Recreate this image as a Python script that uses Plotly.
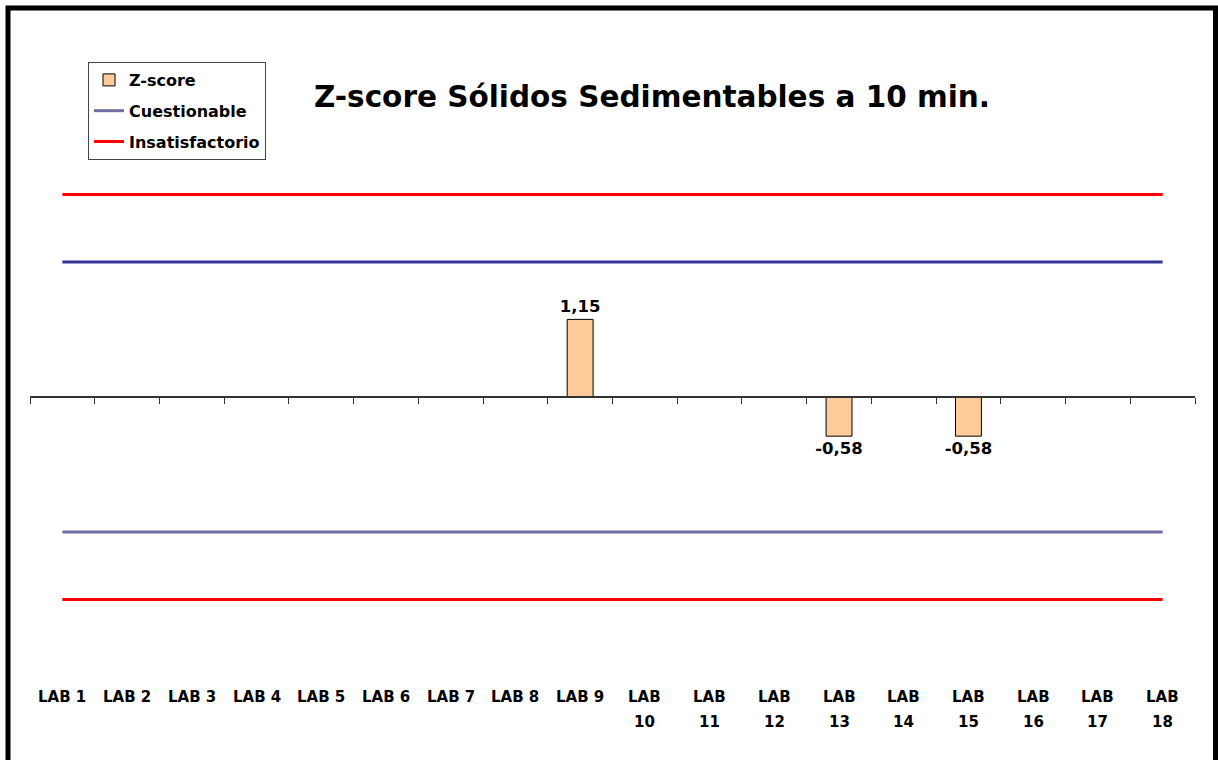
import plotly.graph_objects as go

labs = [f"LAB {i}" for i in range(1, 19)]
zscore = [None, None, None, None, None, None, None, None, 1.15,
          None, None, None, -0.58, None, -0.58, None, None, None]
cuest_hi = [2] * 18
cuest_lo = [-2] * 18
insat_hi = [3] * 18
insat_lo = [-3] * 18

W, H = 1218, 760
L, R, T, B = 30, 23, 150, 75
ppu = 67.5
zero_px = 397
ymax = (zero_px - T) / ppu
ymin = (zero_px - (H - B)) / ppu
zero_frac = (0 - ymin) / (ymax - ymin)
pw = W - L - R
ph = H - T - B

FONT = "DejaVu Sans"


def ypaper(px):
    return (H - B - px) / ph


fig = go.Figure()
fig.add_trace(go.Bar(
    x=labs, y=zscore, name="<b>Z-score</b>", width=0.4, legendgroup="a",
    marker=dict(color="#FFCC99", line=dict(color="black", width=1)),
    texttemplate="<b>%{y:.2f}</b>", textposition="outside",
    textfont=dict(family=FONT, size=16.5, color="black"),
    constraintext="none", cliponaxis=False,
))
fig.add_trace(go.Scatter(x=labs, y=cuest_hi, mode="lines", showlegend=False,
                         line=dict(color="#333399", width=3), hoverinfo="skip"))
fig.add_trace(go.Scatter(x=labs, y=cuest_lo, mode="lines", name="<b>Cuestionable</b>",
                         legendgroup="b", line=dict(color="#6F6FA3", width=3)))
fig.add_trace(go.Scatter(x=labs, y=insat_hi, mode="lines", name="<b>Insatisfactorio</b>",
                         legendgroup="c", line=dict(color="#FF0000", width=3)))
fig.add_trace(go.Scatter(x=labs, y=insat_lo, mode="lines", showlegend=False,
                         line=dict(color="#FF0000", width=3), hoverinfo="skip"))

for lab in labs:
    word, num = lab.split(" ")
    if int(num) < 10:
        lines = [lab]
    else:
        lines = [word, num]
    for k, txt in enumerate(lines):
        fig.add_annotation(x=lab, xref="x", y=ypaper(697 + 25 * k), yref="paper",
                           text=f"<b>{txt}</b>", showarrow=False, yanchor="middle",
                           font=dict(family=FONT, size=15, color="black"))

fig.add_shape(type="rect", xref="paper", yref="paper",
              x0=(8 - L) / pw, x1=(1215.5 - L) / pw,
              y0=ypaper(800), y1=ypaper(8),
              line=dict(color="black", width=5), layer="above")

fig.update_layout(
    width=W, height=H,
    margin=dict(l=L, r=R, t=T, b=B),
    paper_bgcolor="white", plot_bgcolor="white",
    separators=",.",
    showlegend=True,
    title=dict(text="<b>Z-score Sólidos Sedimentables a 10 min.</b>",
               x=652 / W, xanchor="center", y=1 - 97 / H, yanchor="middle",
               font=dict(family=FONT, size=29.5, color="black")),
    legend=dict(x=(88 - L) / pw, y=ypaper(62), xanchor="left", yanchor="top",
                bordercolor="#444444", borderwidth=1, bgcolor="white",
                font=dict(family=FONT, size=16, color="black"),
                traceorder="grouped", itemwidth=30, tracegroupgap=7),
    xaxis=dict(type="category", categoryorder="array", categoryarray=labs,
               range=[-0.5, 17.5], anchor="free", position=zero_frac,
               showline=True, linecolor="#333333", linewidth=1.5,
               ticks="outside", tickson="boundaries", ticklen=6, tickcolor="#333333",
               showticklabels=False, showgrid=False, zeroline=False, fixedrange=True),
    yaxis=dict(range=[ymin, ymax], visible=False, showgrid=False, zeroline=False),
    font=dict(family=FONT),
)
fig.write_html("out.html", config={"displayModeBar": False},
               post_script="document.body.style.margin='0';")
